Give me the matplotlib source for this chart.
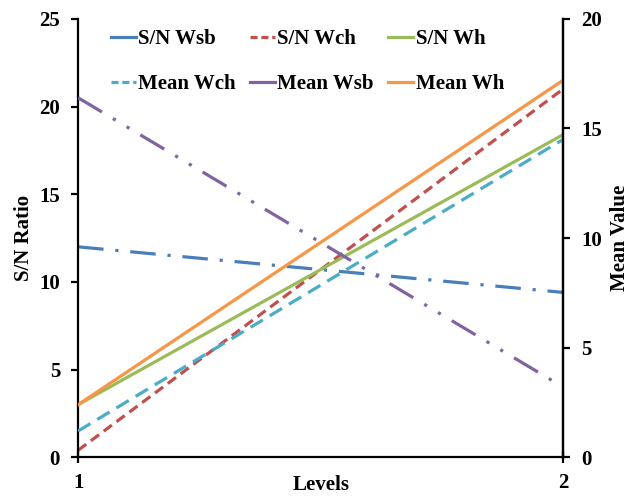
import matplotlib
matplotlib.use("Agg")
import matplotlib.pyplot as plt
from matplotlib.lines import Line2D

plt.rcParams['font.family'] = ['Liberation Serif', 'DejaVu Serif']
plt.rcParams['font.weight'] = 'bold'

# data
levels = [1, 2]
sn_wsb = [12.0, 9.4]      # left axis
sn_wch = [0.4, 21.0]
sn_wh = [3.0, 18.4]
mean_wch = [1.2, 14.5]    # right axis
mean_wsb = [16.4, 3.2]
mean_wh = [2.4, 17.2]

BLUE = "#4A7EBB"
RED = "#C0504D"
GREEN = "#9BBB59"
PURPLE = "#8064A2"
TEAL = "#4BACC6"
ORANGE = "#F79646"
LW = 2.3

fig = plt.figure(figsize=(6.4, 5.0), dpi=100)
ax = fig.add_axes([0.122, 0.0854, 0.758, 0.877])
ax2 = ax.twinx()

ax.plot(levels, sn_wsb, color=BLUE, lw=LW, linestyle=(0, (8, 3.7, 1, 3.7)))
ax.plot(levels, sn_wch, color=RED, lw=LW, linestyle=(0, (3.2, 1.8)))
ax.plot(levels, sn_wh, color=GREEN, lw=LW)
ax2.plot(levels, mean_wch, color=TEAL, lw=LW, linestyle=(0, (4.5, 2.5)))
ax2.plot(levels, mean_wsb, color=PURPLE, lw=LW, linestyle=(0, (8.7, 4, 1, 4, 1, 4)))
ax2.plot(levels, mean_wh, color=ORANGE, lw=LW)

ax.set_xlim(1, 2)
ax.set_ylim(0, 25)
ax2.set_ylim(0, 20)
ax.set_xticks([1, 2])
ax.set_yticks([0, 5, 10, 15, 20, 25])
ax2.set_yticks([0, 5, 10, 15, 20])

for a in (ax, ax2):
    a.spines['top'].set_visible(False)
    for s in a.spines.values():
        s.set_linewidth(1.6)
    a.tick_params(axis='both', direction='out', length=5, width=1.6, labelsize=15, pad=8)
ax.tick_params(axis='x', direction='inout', length=8, pad=7)
ax2.spines['left'].set_visible(False)
ax2.spines['bottom'].set_visible(False)

ax.set_ylabel("S/N Ratio", fontsize=15, fontweight='bold', labelpad=4)
ax2.set_ylabel("Mean Value", fontsize=15, fontweight='bold', labelpad=6)
ax.set_xlabel("Levels", fontsize=15, fontweight='bold', labelpad=-13)

handles = [
    Line2D([], [], color=BLUE, lw=LW),
    Line2D([], [], color=RED, lw=LW, linestyle=(0, (2.2, 1.2))),
    Line2D([], [], color=GREEN, lw=LW),
    Line2D([], [], color=TEAL, lw=LW, linestyle=(0, (2.2, 1.2))),
    Line2D([], [], color=PURPLE, lw=LW),
    Line2D([], [], color=ORANGE, lw=LW),
]
labels = ["S/N Wsb", "S/N Wch", "S/N Wh", "Mean Wch", "Mean Wsb", "Mean Wh"]
# legend fills rows first, so reorder for ncol=3 (column-major)
order = [0, 3, 1, 4, 2, 5]
fig.legend([handles[i] for i in order], [labels[i] for i in order],
           ncol=3, frameon=False, fontsize=15,
           loc='upper left', bbox_to_anchor=(111 / 640, 1 - 29 / 500),
           bbox_transform=fig.transFigure, borderpad=0, borderaxespad=0,
           handlelength=1.2, handletextpad=0.1, columnspacing=0.7,
           labelspacing=1.2)

fig.savefig("out.png", dpi=100)
